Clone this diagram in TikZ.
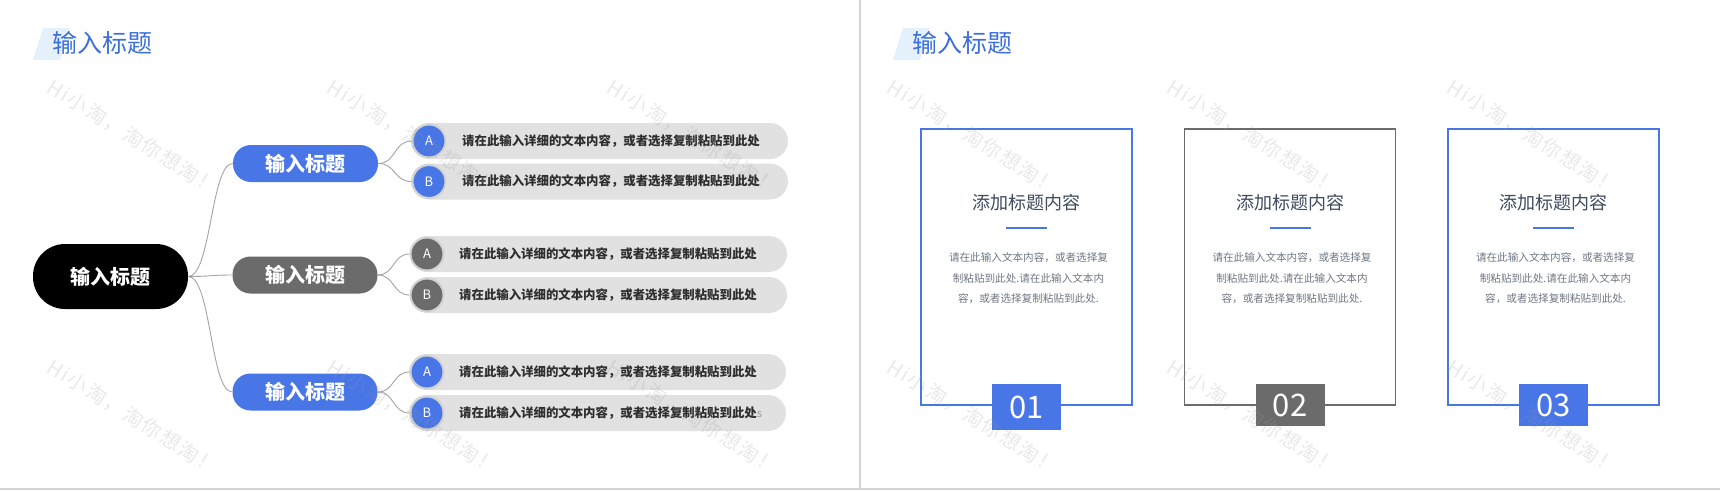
\documentclass[tikz,border=0pt]{standalone}
\usepackage{fontspec}
\setmainfont{Noto Sans CJK SC}
\newfontfamily\wmfont[LetterSpace=9]{Noto Sans CJK SC}
\definecolor{blueM}{HTML}{4876E6}
\definecolor{grayM}{HTML}{6B6B6B}
\definecolor{pillG}{HTML}{E1E1E1}
\definecolor{ringG}{HTML}{D2D2D2}
\definecolor{titleB}{HTML}{3C6FDA}
\definecolor{paraB}{HTML}{E4F0FC}
\definecolor{cardT}{HTML}{3F4A5E}
\definecolor{bodyG}{HTML}{6E7684}
\definecolor{frameG}{HTML}{D4D4D4}
\definecolor{connG}{HTML}{A3A3A3}
\definecolor{txtD}{HTML}{2E2E2E}
\definecolor{wmG}{HTML}{9A9A9A}
\begin{document}
\begin{tikzpicture}[x=1pt,y=-1pt,
  rootbox/.style={fill=black,text=white,rounded corners=32pt,minimum width=155pt,minimum height=65pt,inner sep=0pt,font=\bfseries\fontsize{20}{20}\selectfont},
  lonebox/.style={fill=#1,text=white,rounded corners=18pt,minimum width=145pt,minimum height=37pt,inner sep=0pt,font=\bfseries\fontsize{20}{20}\selectfont},
  pill/.style={fill=pillG,rounded corners=18pt,minimum width=377pt,minimum height=36pt,inner sep=0pt},
  badge/.style={circle,fill=#1,draw=ringG,line width=2pt,minimum size=33pt,inner sep=0pt,text=white,font=\fontsize{13}{13}\selectfont},
  pilltext/.style={anchor=west,inner sep=0pt,text=txtD,font=\bfseries\fontsize{12.4}{12.4}\selectfont},
  conn/.style={draw=connG,line width=0.9pt},
  card/.style={draw=#1,line width=1.6pt,minimum width=211pt,minimum height=276pt,inner sep=0pt},
  cardtitle/.style={text=cardT,inner sep=0pt,font=\fontsize{18}{18}\selectfont},
  cardrule/.style={fill=blueM,minimum width=41pt,minimum height=2pt,inner sep=0pt},
  cardbody/.style={text=bodyG,align=center,inner sep=0pt,font=\fontsize{10.6}{20.5}\selectfont},
  numbox/.style={fill=#1,text=white,minimum width=69pt,inner sep=0pt,font=\fontsize{31}{31}\selectfont},
  pagetitle/.style={text=titleB,anchor=west,inner sep=0pt,font=\fontsize{25}{25}\selectfont},
  wmark/.style={text=wmG,opacity=0.22,rotate=-32,inner sep=0pt,font=\wmfont\fontsize{20}{20}\selectfont}
]
\useasboundingbox (0,0) rectangle (1720,490);
% frame lines
\draw[frameG,line width=2pt] (860,0) -- (860,490);
\draw[frameG,line width=2pt] (0,488.5) -- (1720,488.5);

% ---------- left page ----------
\fill[paraB] (33,60) -- (43,28) -- (70,28) -- (60,60) -- cycle;
\node[pagetitle] (ltitle) at (52,43) {输入标题};

\node[rootbox] (root) at (110.5,276.5) {输入标题};
\node[lonebox=blueM] (n1) at (305.5,163.5) {输入标题};
\node[lonebox=grayM] (n2) at (305,275) {输入标题};
\node[lonebox=blueM] (n3) at (305,392) {输入标题};

\draw[conn] (root.east) .. controls +(23,0) and +(-22,0) .. (n1.west);
\draw[conn] (root.east) .. controls +(23,0) and +(-22,0) .. (n2.west);
\draw[conn] (root.east) .. controls +(23,0) and +(-22,0) .. (n3.west);

% pills
\node[pill] (p1a) at (599.5,141) {};
\node[pill] (p1b) at (599.5,181.5) {};
\node[pill] (p2a) at (598.5,254) {};
\node[pill] (p2b) at (598.5,295) {};
\node[pill] (p3a) at (597.5,372) {};
\node[pill] (p3b) at (597.5,413) {};

\node[badge=blueM] (c1a) at (429,141) {A};
\node[badge=blueM] (c1b) at (429,181.5) {B};
\node[badge=grayM] (c2a) at (427,254) {A};
\node[badge=grayM] (c2b) at (427,295) {B};
\node[badge=blueM] (c3a) at (427,372) {A};
\node[badge=blueM] (c3b) at (427,413) {B};

\node[pilltext] (t1a) at (462,141) {请在此输入详细的文本内容，或者选择复制粘贴到此处};
\node[pilltext] (t1b) at (462,181.5) {请在此输入详细的文本内容，或者选择复制粘贴到此处};
\node[pilltext] (t2a) at (459,254) {请在此输入详细的文本内容，或者选择复制粘贴到此处};
\node[pilltext] (t2b) at (459,295) {请在此输入详细的文本内容，或者选择复制粘贴到此处};
\node[pilltext] (t3a) at (459,372) {请在此输入详细的文本内容，或者选择复制粘贴到此处};
\node[pilltext] (t3b) at (459,413) {请在此输入详细的文本内容，或者选择复制粘贴到此处{\mdseries\color{gray!80}\fontsize{11}{11}\selectfont s}};

\draw[conn] (n1.east) .. controls +(18,0) and +(-18,0) .. (c1a.west);
\draw[conn] (n1.east) .. controls +(18,0) and +(-18,0) .. (c1b.west);
\draw[conn] (n2.east) .. controls +(17,0) and +(-17,0) .. (c2a.west);
\draw[conn] (n2.east) .. controls +(17,0) and +(-17,0) .. (c2b.west);
\draw[conn] (n3.east) .. controls +(17,0) and +(-17,0) .. (c3a.west);
\draw[conn] (n3.east) .. controls +(17,0) and +(-17,0) .. (c3b.west);

% ---------- right page ----------
\fill[paraB] (893,60) -- (903,28) -- (930,28) -- (920,60) -- cycle;
\node[pagetitle] (rtitle) at (912,43) {输入标题};

\foreach \i/\cx/\col/\nh in {1/1026.5/blueM/46, 2/1290/grayM/42, 3/1553.5/blueM/42}{
  \node[card=\col] (k\i) at (\cx,267) {};
  \node[cardtitle] (kt\i) at (\cx,203) {添加标题内容};
  \node[cardrule] (kr\i) at (\cx,228) {};
  \node[cardbody] (kb\i) at (\cx+2,278.5) {请在此输入文本内容，或者选择复\\制粘贴到此处.请在此输入文本内\\容，或者选择复制粘贴到此处.};
  \node[numbox=\col,minimum height=\nh pt,anchor=north] (kn\i) at (\cx,384) {0\i};
}

% watermarks
\foreach \k in {0,...,5}{
  \node[wmark] (wma\k) at (133+280*\k,137) {Hi小淘，淘你想淘！};
  \node[wmark] (wmb\k) at (133+280*\k,417) {Hi小淘，淘你想淘！};
}
\end{tikzpicture}
\end{document}
